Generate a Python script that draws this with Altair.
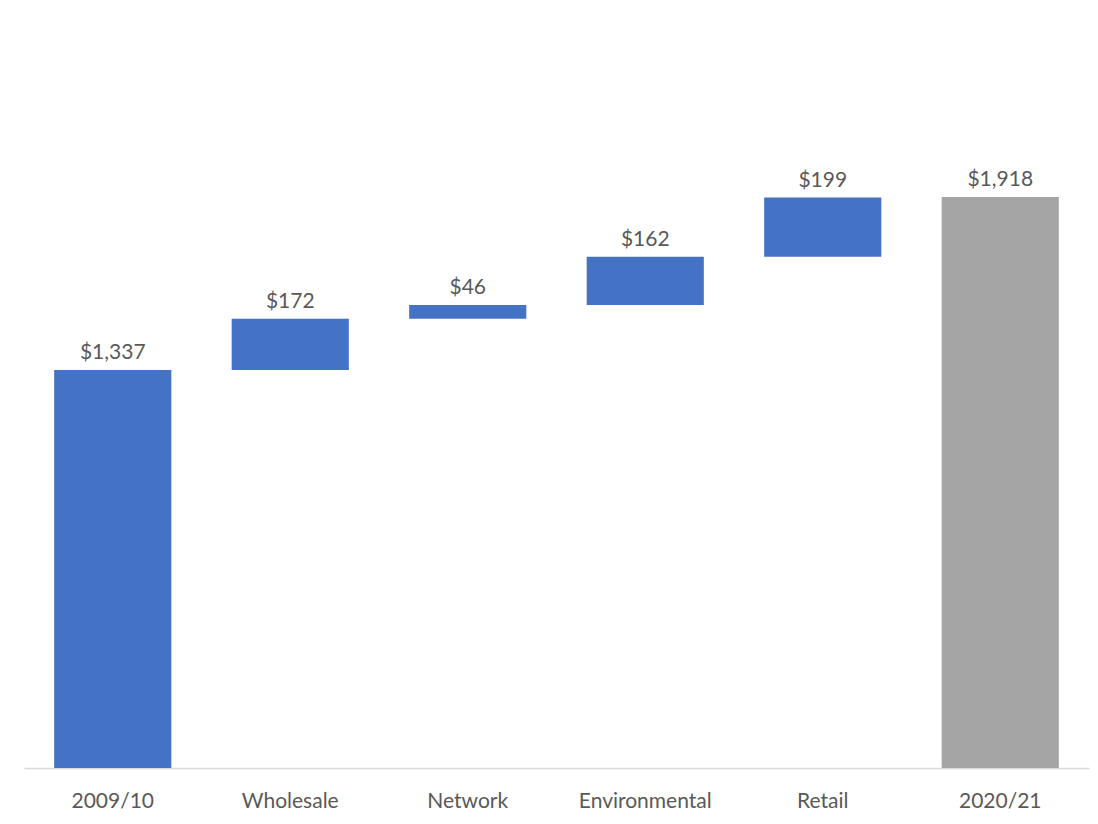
import altair as alt
import pandas as pd

categories = ["2009/10", "Wholesale", "Network", "Environmental", "Retail", "2020/21"]
values = [1337, 172, 46, 162, 199, 1918]
kinds = ["total", "step", "step", "step", "step", "total"]

rows = []
level = 0
for c, v, k in zip(categories, values, kinds):
    if k == "total":
        lo, hi = 0, v
        level = v
    else:
        lo, hi = level, level + v
        level = hi
    rows.append({"cat": c, "lo": int(lo), "hi": int(hi),
                 "kind": "grey" if c == "2020/21" else "blue",
                 "lab": "${:,}".format(v)})
df = pd.DataFrame(rows)

FONT = "Lato"
TXT = "#595959"

base = alt.Chart(df).encode(
    x=alt.X("cat:N", sort=categories,
            scale=alt.Scale(paddingInner=0.34, paddingOuter=0.17),
            axis=alt.Axis(title=None, labelAngle=0, ticks=False, domainColor="#d9d9d9",
                          domainWidth=1.5, labelFontSize=21, labelColor=TXT, labelFont=FONT,
                          labelPadding=22)),
)

bars = base.mark_bar().encode(
    y=alt.Y("lo:Q", scale=alt.Scale(domain=[0, 2563], nice=False),
            axis=alt.Axis(title=None, labels=False, ticks=False, domain=False, grid=False,
                          minExtent=19)),
    y2="hi:Q",
    color=alt.Color("kind:N", scale=alt.Scale(domain=["blue", "grey"],
                                              range=["#4472C4", "#A5A5A5"]), legend=None),
)

labels = base.mark_text(baseline="bottom", dy=-7, fontSize=21, font=FONT, color=TXT).encode(
    y=alt.Y("hi:Q"),
    text="lab:N",
)

chart = alt.layer(bars, labels).properties(
    width=1065, height=763,
).configure_view(strokeWidth=0)

chart.save("out.html", embed_options={"renderer": "svg", "actions": False})
